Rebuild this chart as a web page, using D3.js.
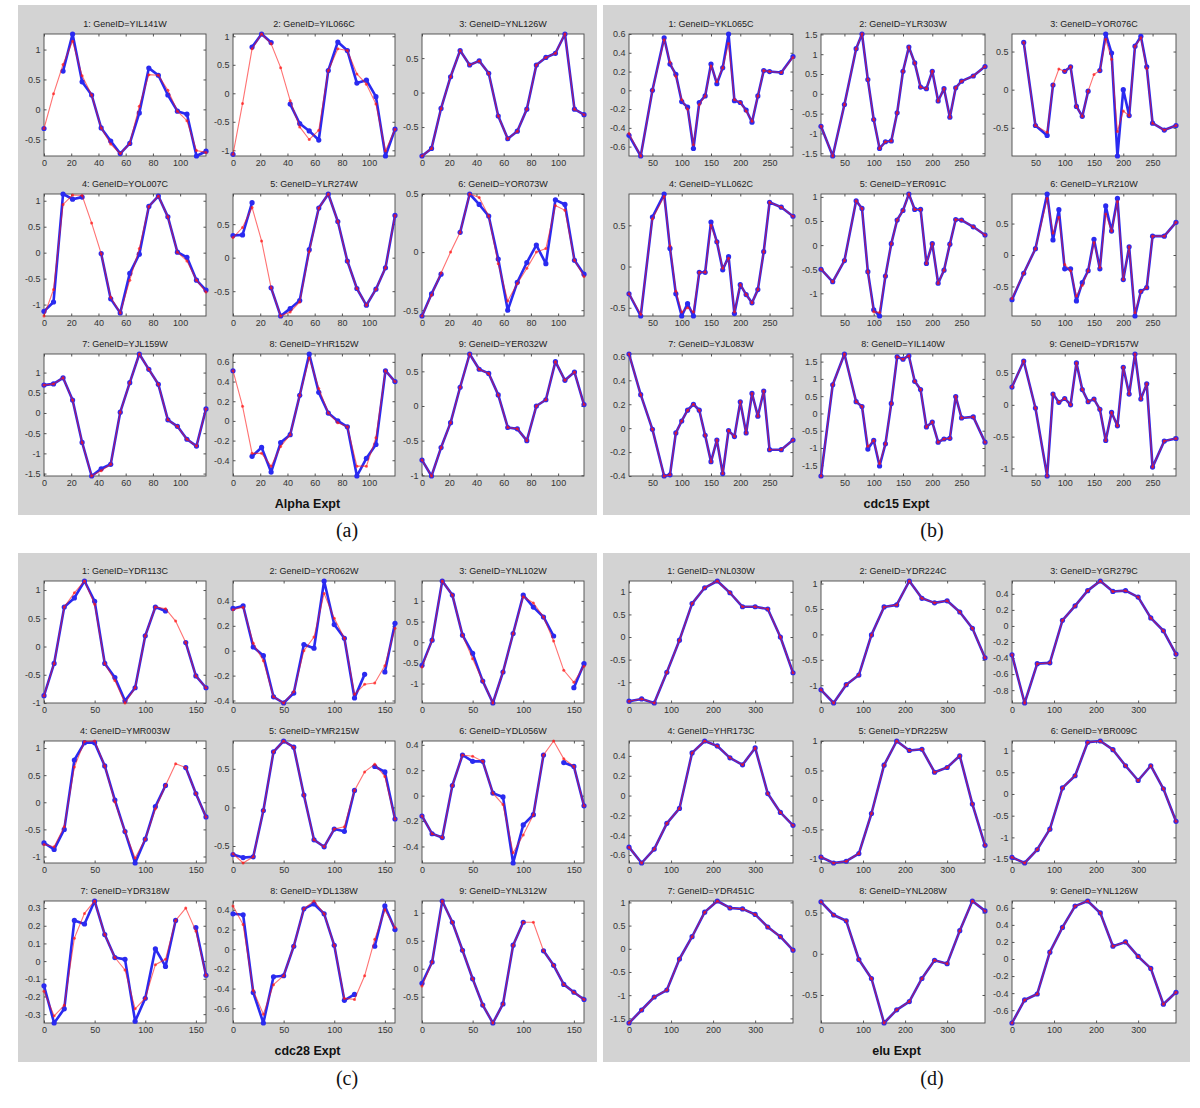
<!DOCTYPE html>
<html><head><meta charset="utf-8">
<script src="https://cdn.jsdelivr.net/npm/d3@7"></script>
<style>body{margin:0;background:#fff}svg{display:block}</style>
</head><body>
<svg id="chart" width="1200" height="1108"></svg>
<script>
// ---------------- DATA ----------------
const alphaTime = [0,7,14,21,28,35,42,49,56,63,70,77,84,91,98,105,112,119];
const cdc15Time = [10,30,50,70,80,90,100,110,120,130,140,150,160,170,180,190,200,210,220,230,240,250,270,290];
const cdc28Time = [0,10,20,30,40,50,60,70,80,90,100,110,120,130,140,150,160];
const eluTime = [0,30,60,90,120,150,180,210,240,270,300,330,360,390];

const alphaXTicks = [0,20,40,60,80,100];
const cdc15XTicks = [50,100,150,200,250];
const cdc28XTicks = [0,50,100,150];
const eluXTicks = [0,100,200,300];

const alphaGenes = ["YIL141W","YIL066C","YNL126W","YOL007C","YLR274W","YOR073W","YJL159W","YHR152W","YER032W"];
const cdc15Genes = ["YKL065C","YLR303W","YOR076C","YLL062C","YER091C","YLR210W","YJL083W","YIL140W","YDR157W"];
const cdc28Genes = ["YDR113C","YCR062W","YNL102W","YMR003W","YMR215W","YDL056W","YDR318W","YDL138W","YNL312W"];
const eluGenes = ["YNL030W","YDR224C","YGR279C","YHR173C","YDR225W","YBR009C","YDR451C","YNL208W","YNL126W"];

// red = estimated profile, blue = observed profile (null = missing)
const alphaRed = [
 [-0.32,0.26,0.75,1.14,0.56,0.24,-0.31,-0.58,-0.74,-0.57,0.05,0.58,0.57,0.32,-0.03,-0.19,-0.69,-0.72],
 [-1.07,-0.18,0.78,1.04,0.87,0.45,-0.13,-0.59,-0.81,-0.65,0.40,0.78,0.75,0.34,0.16,-0.19,-1.01,-0.63],
 [-0.92,-0.81,-0.23,0.23,0.61,0.40,0.46,0.28,-0.34,-0.67,-0.56,-0.24,0.40,0.51,0.57,0.85,-0.24,-0.32],
 [-1.22,-0.71,0.93,1.11,1.10,0.57,-0.02,-0.86,-1.16,-0.53,0.08,0.89,1.09,0.69,0.01,-0.16,-0.53,-0.76],
 [0.30,0.45,0.75,0.25,-0.45,-0.87,-0.81,-0.66,0.09,0.74,0.95,0.54,-0.05,-0.46,-0.71,-0.47,-0.15,0.63],
 [-0.55,-0.37,-0.18,0.00,0.17,0.50,0.47,0.31,-0.10,-0.42,-0.27,-0.14,0.00,0.03,0.40,0.36,-0.07,-0.21],
 [0.69,0.72,0.87,0.32,-0.73,-1.56,-1.43,-1.27,0.02,0.75,1.46,1.08,0.71,-0.17,-0.33,-0.65,-0.82,0.10],
 [0.51,0.15,-0.33,-0.33,-0.46,-0.26,-0.14,0.26,0.64,0.33,0.08,-0.02,-0.06,-0.46,-0.46,-0.17,0.51,0.40],
 [-0.78,-1.01,-0.60,-0.24,0.27,0.75,0.53,0.47,0.16,-0.31,-0.33,-0.50,0.00,0.09,0.64,0.37,0.49,0.02]
];
const alphaBlue = [
 [-0.32,null,0.64,1.26,0.46,0.24,-0.31,-0.53,-0.74,-0.57,-0.06,0.69,0.57,0.24,-0.03,-0.08,-0.78,-0.70],
 [-1.07,null,0.81,1.04,0.89,null,-0.19,-0.53,-0.66,-0.82,0.40,0.90,0.75,0.18,0.23,-0.06,-1.10,-0.63],
 [-0.92,-0.81,-0.23,0.23,0.61,0.40,0.46,0.28,-0.34,-0.67,-0.56,-0.24,0.40,0.51,0.57,0.85,-0.24,-0.32],
 [-1.13,-0.95,1.13,1.03,1.07,null,-0.02,-0.89,-1.16,-0.40,-0.03,0.89,1.09,0.69,0.01,-0.09,-0.53,-0.72],
 [0.33,0.34,0.82,null,-0.45,-0.87,-0.76,-0.64,0.12,0.74,0.95,0.54,-0.05,-0.46,-0.71,-0.47,-0.15,0.63],
 [-0.55,-0.36,-0.19,null,0.17,0.50,0.41,0.31,-0.06,-0.50,-0.26,-0.09,0.06,-0.10,0.45,0.41,-0.07,-0.19],
 [0.69,0.72,0.87,0.32,-0.73,-1.56,-1.38,-1.27,0.02,0.75,1.46,1.08,0.71,-0.17,-0.33,-0.65,-0.82,0.10],
 [0.51,null,-0.36,-0.27,-0.52,-0.22,-0.14,0.26,0.68,0.29,0.08,0.00,-0.06,-0.56,-0.38,-0.24,0.51,0.40],
 [-0.78,-1.01,-0.60,-0.24,0.27,0.75,0.53,0.47,0.16,-0.31,-0.33,-0.50,0.00,0.09,0.64,0.37,0.49,0.02]
];
const alphaYTicks = [[-0.5,0,0.5,1],[-1,-0.5,0,0.5,1],[-0.5,0,0.5],[-1,-0.5,0,0.5,1],[-0.5,0,0.5],[-0.5,0,0.5],[-1.5,-1,-0.5,0,0.5,1],[-0.4,-0.2,0,0.2,0.4,0.6],[-1,-0.5,0,0.5]];

const cdc15Red = [
 [-0.46,-0.70,0.00,0.54,0.30,0.15,-0.10,-0.20,-0.58,-0.15,-0.06,0.26,0.09,0.24,0.50,-0.10,-0.13,-0.22,-0.33,-0.06,0.21,0.20,0.19,0.35],
 [-0.82,-1.57,-0.27,1.14,1.51,0.36,-0.65,-1.38,-1.21,-1.19,-0.48,0.57,1.18,0.78,0.17,0.13,0.57,-0.18,0.13,-0.59,0.15,0.32,0.45,0.69],
 [null,0.62,-0.47,-0.56,0.06,0.27,0.24,0.30,-0.22,-0.35,-0.02,0.20,0.25,0.66,0.40,-0.55,-0.28,-0.34,0.57,0.68,0.28,-0.44,-0.53,-0.47],
 [-0.33,-0.58,0.58,0.85,0.25,-0.30,-0.55,-0.50,-0.55,-0.07,-0.07,0.50,0.30,-0.02,0.10,-0.55,-0.22,-0.34,-0.44,-0.28,0.18,0.78,0.72,0.61],
 [-0.50,-0.76,-0.32,0.92,0.76,-0.55,-1.38,-1.40,-0.64,0.03,0.52,0.72,1.06,0.74,0.74,-0.38,0.03,-0.79,-0.52,0.02,0.53,0.52,0.38,0.21],
 [-0.69,-0.29,0.10,0.90,0.35,0.60,-0.15,-0.25,-0.65,-0.48,-0.25,0.20,-0.20,0.65,0.38,0.85,-0.39,0.13,-0.92,-0.58,-0.52,0.30,0.30,0.52],
 [0.62,0.28,-0.01,-0.40,-0.39,-0.04,0.06,0.15,0.20,0.15,-0.06,-0.28,-0.10,-0.38,-0.02,-0.07,0.22,-0.04,0.29,0.10,0.31,-0.18,-0.18,-0.10],
 [-1.81,0.83,1.72,0.34,0.20,-0.95,-0.78,-1.45,-0.88,0.29,1.64,1.57,1.67,0.93,0.69,-0.39,-0.25,-0.83,-0.74,-0.72,0.49,-0.13,-0.10,-0.83],
 [0.28,0.69,-0.05,-1.12,0.17,0.04,0.10,0.00,0.66,0.24,0.05,0.09,-0.07,-0.56,-0.12,-0.33,0.59,0.17,0.80,0.09,0.33,-0.98,-0.57,-0.53]
];
const cdc15Blue = [
 [-0.48,-0.70,0.00,0.56,0.28,0.17,-0.12,-0.18,-0.62,-0.13,-0.06,0.28,0.07,0.24,0.60,-0.11,-0.13,-0.21,-0.34,-0.06,0.21,0.20,0.19,0.36],
 [-0.82,-1.57,-0.27,1.14,1.51,0.36,-0.65,-1.38,-1.21,-1.19,-0.48,0.57,1.18,0.78,0.17,0.13,0.57,-0.18,0.13,-0.59,0.15,0.32,0.45,0.69],
 [null,0.62,-0.47,-0.60,0.06,null,0.24,0.30,-0.22,-0.35,-0.02,null,0.25,0.73,0.48,-0.87,0.00,-0.34,0.57,0.70,0.30,-0.44,-0.53,-0.47],
 [-0.33,-0.60,0.60,0.88,0.22,-0.33,-0.60,-0.45,-0.60,-0.07,-0.07,0.54,0.30,-0.04,0.12,-0.57,-0.22,-0.34,-0.44,-0.28,0.18,0.78,0.72,0.61],
 [-0.50,-0.76,-0.32,0.92,0.76,-0.55,-1.34,-1.47,-0.64,0.03,0.52,0.72,1.06,0.74,0.74,-0.38,0.03,-0.79,-0.52,0.02,0.53,0.52,0.38,0.21],
 [-0.71,-0.29,0.10,0.97,0.24,0.72,-0.22,-0.22,-0.73,-0.44,-0.25,0.25,-0.22,0.78,0.38,0.90,-0.39,0.13,-0.97,-0.58,-0.52,0.30,0.30,0.52],
 [0.62,0.28,-0.01,-0.40,-0.39,-0.04,0.06,0.15,0.20,0.15,-0.06,-0.28,-0.10,-0.38,-0.02,-0.07,0.22,-0.04,0.29,0.10,0.31,-0.18,-0.18,-0.10],
 [-1.81,0.83,1.72,0.34,0.20,-1.03,-0.78,-1.52,-0.88,0.29,1.64,1.57,1.67,0.93,0.69,-0.39,-0.25,-0.83,-0.74,-0.72,0.49,-0.13,-0.10,-0.83],
 [0.28,0.69,-0.05,-1.12,0.17,0.04,0.10,0.00,0.66,0.24,0.05,0.09,-0.07,-0.56,-0.12,-0.33,0.59,0.17,0.80,0.09,0.33,-0.98,-0.57,-0.53]
];
const cdc15YTicks = [[-0.6,-0.4,-0.2,0,0.2,0.4,0.6],[-1.5,-1,-0.5,0,0.5,1,1.5],[-0.5,0,0.5],[-0.5,0,0.5],[-1,-0.5,0,0.5,1],[-0.5,0,0.5],[-0.4,-0.2,0,0.2,0.4,0.6],[-1.5,-1,-0.5,0,0.5,1,1.5],[-1,-0.5,0,0.5]];

const cdc28Red = [
 [-0.87,-0.30,0.70,0.95,1.16,0.75,-0.30,-0.60,-1.00,-0.73,0.19,0.70,0.67,0.45,0.07,-0.52,-0.73],
 [0.33,0.35,0.06,-0.08,-0.37,-0.42,-0.33,0.00,0.11,0.46,0.26,0.10,-0.35,-0.27,-0.26,-0.12,0.18],
 [-0.60,0.05,1.48,1.14,0.17,-0.40,-0.94,-1.47,-0.72,0.21,1.10,0.95,0.61,0.03,-0.68,-0.97,-0.58],
 [-0.78,-0.82,-0.45,0.65,1.12,1.13,0.67,0.01,-0.54,-1.03,-0.68,-0.12,0.31,0.71,0.64,0.16,-0.27],
 [-0.60,-0.72,-0.64,-0.04,0.72,0.86,0.78,0.16,-0.42,-0.51,-0.28,-0.25,0.22,0.46,0.56,0.40,-0.15],
 [-0.16,-0.30,-0.33,0.08,0.32,0.31,0.27,0.02,-0.07,-0.45,-0.31,-0.15,0.32,0.43,0.29,0.23,-0.08],
 [-0.17,-0.31,-0.25,0.13,0.27,0.34,0.15,0.02,-0.05,-0.27,-0.21,-0.02,0.01,0.23,0.30,0.17,-0.08],
 [0.44,0.25,-0.42,-0.66,-0.36,-0.27,0.03,0.41,0.49,0.36,0.04,-0.50,-0.51,-0.27,0.10,0.40,0.22],
 [-0.31,0.12,1.21,0.83,0.33,-0.18,-0.65,-0.97,-0.63,0.42,0.83,0.83,0.32,0.06,-0.28,-0.42,-0.55]
];
const cdc28Blue = [
 [-0.87,-0.30,0.70,0.86,1.16,0.80,-0.30,-0.55,-0.96,-0.73,0.19,0.70,0.63,null,0.07,-0.52,-0.73],
 [0.34,0.36,0.03,-0.04,-0.37,-0.42,-0.34,0.05,0.02,0.56,0.21,0.10,-0.38,-0.19,null,-0.17,0.22],
 [-0.56,0.05,1.48,1.14,0.17,-0.27,-0.94,-1.47,-0.72,0.21,1.14,0.85,0.61,0.15,null,-1.10,-0.52],
 [-0.75,-0.87,-0.50,0.78,1.10,1.10,0.67,0.04,-0.54,-1.12,-0.68,-0.08,0.31,null,0.64,0.16,-0.27],
 [-0.61,-0.65,-0.64,-0.04,0.72,0.86,0.78,0.16,-0.42,-0.51,-0.28,-0.31,0.22,null,0.53,0.46,-0.15],
 [-0.16,-0.30,-0.33,0.08,0.32,0.27,0.27,0.02,-0.01,-0.53,-0.23,-0.15,0.32,null,0.26,0.23,-0.08],
 [-0.14,-0.35,-0.27,0.23,0.21,0.34,0.15,0.02,0.01,-0.34,-0.21,0.07,-0.03,0.23,null,0.19,-0.08],
 [0.36,0.35,-0.44,-0.75,-0.28,-0.27,0.03,0.41,0.46,0.36,0.04,-0.52,-0.46,null,0.03,0.44,0.20],
 [-0.26,0.12,1.21,0.83,0.33,-0.18,-0.65,-0.97,-0.63,0.42,0.83,null,0.32,0.06,-0.28,-0.42,-0.55]
];
const cdc28YTicks = [[-1,-0.5,0,0.5,1],[-0.4,-0.2,0,0.2,0.4],[-1,-0.5,0,0.5,1],[-1,-0.5,0,0.5,1],[-0.5,0,0.5],[-0.4,-0.2,0,0.2,0.4],[-0.3,-0.2,-0.1,0,0.1,0.2,0.3],[-0.6,-0.4,-0.2,0,0.2,0.4],[-0.5,0,0.5,1]];

// elu: no missing values, both profiles coincide
const eluValues = [
 [-1.42,-1.37,-1.46,-0.78,-0.07,0.74,1.09,1.24,0.98,0.67,0.67,0.62,0.00,-0.79],
 [-1.09,-1.35,-0.99,-0.80,-0.01,0.54,0.58,1.05,0.71,0.62,0.66,0.44,0.12,-0.46],
 [-0.36,-0.96,-0.47,-0.46,0.07,0.25,0.44,0.56,0.43,0.44,0.36,0.10,-0.06,-0.35],
 [-0.52,-0.68,-0.54,-0.28,-0.13,0.43,0.55,0.50,0.38,0.31,0.48,0.02,-0.17,-0.30],
 [-0.97,-1.07,-1.04,-0.91,-0.23,0.59,1.00,0.84,0.86,0.47,0.55,0.75,-0.07,-0.77],
 [-1.46,-1.59,-1.28,-0.81,0.14,0.42,1.19,1.22,1.02,0.65,0.31,0.65,0.12,-0.63],
 [-1.60,-1.32,-1.04,-0.89,-0.22,0.26,0.79,1.03,0.88,0.86,0.74,0.47,0.26,-0.03],
 [0.63,0.47,0.40,-0.07,-0.30,-0.84,-0.68,-0.58,-0.30,-0.08,-0.12,0.28,0.64,0.52],
 [-0.75,-0.48,-0.41,0.08,0.37,0.62,0.68,0.54,0.15,0.20,0.03,-0.11,-0.53,-0.39]
];
const eluYTicks = [[-1,-0.5,0,0.5,1],[-1,-0.5,0,0.5,1],[-0.8,-0.6,-0.4,-0.2,0,0.2,0.4],[-0.6,-0.4,-0.2,0,0.2,0.4],[-1,-0.5,0,0.5,1],[-1.5,-1,-0.5,0,0.5,1],[-1.5,-1,-0.5,0,0.5,1],[-0.5,0,0.5],[-0.6,-0.4,-0.2,0,0.2,0.4,0.6]];

const panelNames = ["Alpha Expt","cdc15 Expt","cdc28 Expt","elu Expt"];
const panelLetters = ["(a)","(b)","(c)","(d)"];

// ---------------- LAYOUT ----------------
const layouts = [
  {bg:[18,5,579,510],  cols:[44,233,422],  colW:162, rows:[34,194,354],  rowH:122, letter:[347,537]},
  {bg:[603,5,587,510], cols:[629,821,1012], colW:164, rows:[34,194,354],  rowH:122, letter:[932,537]},
  {bg:[18,553,579,509], cols:[44,233,422],  colW:162, rows:[581,741,901], rowH:122, letter:[347,1085]},
  {bg:[603,553,587,509],cols:[629,821,1012], colW:164, rows:[581,741,901], rowH:122, letter:[932,1085]}
];

const panels = [
  {time:alphaTime, xTicks:alphaXTicks, genes:alphaGenes, red:alphaRed, blue:alphaBlue, yTicks:alphaYTicks},
  {time:cdc15Time, xTicks:cdc15XTicks, genes:cdc15Genes, red:cdc15Red, blue:cdc15Blue, yTicks:cdc15YTicks},
  {time:cdc28Time, xTicks:cdc28XTicks, genes:cdc28Genes, red:cdc28Red, blue:cdc28Blue, yTicks:cdc28YTicks},
  {time:eluTime,   xTicks:eluXTicks,   genes:eluGenes,   red:eluValues, blue:eluValues, yTicks:eluYTicks}
];

const FONT = "'Liberation Sans', Arial, Helvetica, sans-serif";
const BLUE = "#2a2af0", RED = "#ff1414";
const svg = d3.select("#chart");
svg.append("rect").attr("width",1200).attr("height",1108).attr("fill","#fff");

const fmt = v => String(+v.toFixed(2));

panels.forEach((p, pi) => {
  const L = layouts[pi];
  const pg = svg.append("g");
  pg.append("rect").attr("x",L.bg[0]).attr("y",L.bg[1]).attr("width",L.bg[2]).attr("height",L.bg[3]).attr("fill","#d3d3d3");

  for (let i = 0; i < 9; i++) {
    const r = Math.floor(i/3), c = i%3;
    const x0 = L.cols[c], y0 = L.rows[r], w = L.colW, h = L.rowH;
    const redVals = p.red[i], blueVals = p.blue[i];
    const all = redVals.concat(blueVals).filter(v => v != null);
    const x = d3.scaleLinear().domain(d3.extent(p.time)).range([x0, x0+w]);
    const y = d3.scaleLinear().domain(d3.extent(all)).range([y0+h, y0]);
    const [ymin, ymax] = y.domain();
    const yt = p.yTicks[i].filter(t => t >= ymin-1e-9 && t <= ymax+1e-9);

    const g = pg.append("g").attr("font-family", FONT);
    g.append("rect").attr("x",x0).attr("y",y0).attr("width",w).attr("height",h).attr("fill","#fff");

    const styleAxis = sel => {
      sel.select(".domain").remove();
      sel.selectAll(".tick line").attr("stroke","#555");
      sel.selectAll(".tick text").attr("fill","#333").attr("font-size",9).attr("font-family",FONT);
    };
    g.append("g").attr("transform",`translate(${x0},0)`)
      .call(d3.axisLeft(y).tickValues(yt).tickFormat(fmt).tickSize(-2.5).tickPadding(3.5)).call(styleAxis);
    g.append("g").attr("transform",`translate(${x0+w},0)`)
      .call(d3.axisRight(y).tickValues(yt).tickFormat("").tickSize(-2.5)).call(styleAxis);
    g.append("g").attr("transform",`translate(0,${y0+h})`)
      .call(d3.axisBottom(x).tickValues(p.xTicks).tickFormat(fmt).tickSize(-2.5).tickPadding(4)).call(styleAxis);
    g.append("g").attr("transform",`translate(0,${y0})`)
      .call(d3.axisTop(x).tickValues(p.xTicks).tickFormat("").tickSize(-2.5)).call(styleAxis);
    g.append("rect").attr("x",x0).attr("y",y0).attr("width",w).attr("height",h)
      .attr("fill","none").attr("stroke","#4a4a4a").attr("stroke-width",0.9);

    g.append("text").attr("x",x0+w/2).attr("y",y0-7).attr("text-anchor","middle")
      .attr("font-size",9).attr("fill","#222").text(`${i+1}: GeneID=${p.genes[i]}`);

    const line = d3.line().defined(d => d[1] != null).x(d => x(d[0])).y(d => y(d[1]));
    const bluePts = p.time.map((t,k) => [t, blueVals[k]]);
    const redPts = p.time.map((t,k) => [t, redVals[k]]);

    g.append("path").attr("d", line(bluePts)).attr("fill","none").attr("stroke",BLUE)
      .attr("stroke-width",2.6).attr("stroke-linejoin","round").attr("stroke-linecap","round");
    g.selectAll(null).data(bluePts.filter(d => d[1] != null)).join("circle")
      .attr("cx", d => x(d[0])).attr("cy", d => y(d[1])).attr("r",2.6).attr("fill",BLUE);

    g.append("path").attr("d", line(redPts)).attr("fill","none").attr("stroke",RED)
      .attr("stroke-width",1.1).attr("stroke-opacity",0.6);
    g.selectAll(null).data(redPts.filter(d => d[1] != null)).join("circle")
      .attr("cx", d => x(d[0])).attr("cy", d => y(d[1])).attr("r",1.5).attr("fill",RED).attr("fill-opacity",0.7);
  }

  const mid = L.bg[0] + L.bg[2]/2;
  pg.append("text").attr("x", mid).attr("y", L.rows[2] + L.rowH + 32)
    .attr("text-anchor","middle").attr("font-family",FONT).attr("font-weight","bold")
    .attr("font-size",12.5).attr("fill","#111").text(panelNames[pi]);

  svg.append("text").attr("x",L.letter[0]).attr("y",L.letter[1]).attr("text-anchor","middle")
    .attr("font-family","'Liberation Serif','Times New Roman',serif").attr("font-size",20)
    .attr("fill","#111").text(panelLetters[pi]);
});
</script>
</body></html>
